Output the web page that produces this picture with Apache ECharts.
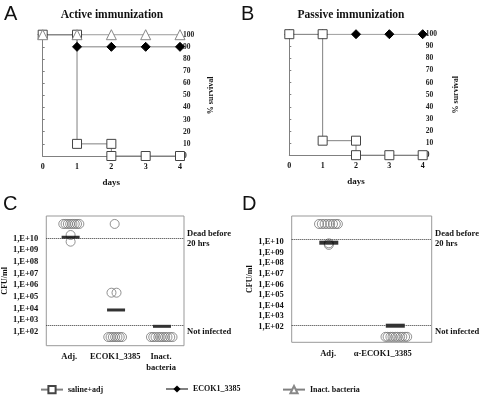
<!DOCTYPE html>
<html>
<head>
<meta charset="utf-8">
<script src="https://cdn.jsdelivr.net/npm/echarts@6/dist/echarts.min.js"></script>
<style>
html, body { margin: 0; padding: 0; background: #fff; }
#chart { width: 480px; height: 396px; }
</style>
</head>
<body>
<div id="chart"></div>
<script>
// survival curves, [day, % survival]
var activeSaline = [[0, 100], [1, 100], [1, 10], [2, 10], [2, 0], [3, 0], [4, 0]];
var activeEcok = [[0, 100], [1, 100], [1, 90], [2, 90], [3, 90], [4, 90]];
var activeInact = [[0, 100], [1, 100], [2, 100], [3, 100], [4, 100]];
var passiveSaline = [[0, 100], [1, 100], [1, 12], [2, 12], [2, 0], [3, 0], [4, 0]];
var passiveEcok = [[0, 100], [1, 100], [2, 100], [3, 100], [4, 100]];

// CFU/ml, [group position, log10 value]
var cCategories = ["Adj.", "ECOK1_3385", "Inact.\nbacteria"];
var cCircles = [
    [0.37, 11.23], [0.42, 11.23], [0.47, 11.23], [0.52, 11.23], [0.57, 11.23],
    [0.62, 11.23], [0.67, 11.23], [0.72, 11.23], [0.53, 10.28], [0.53, 9.71],
    [1.49, 11.23], [1.42, 5.34], [1.53, 5.34],
    [1.35, 1.54], [1.40, 1.54], [1.45, 1.54], [1.50, 1.54], [1.55, 1.54], [1.60, 1.54], [1.65, 1.54],
    [2.28, 1.54], [2.33, 1.54], [2.38, 1.54], [2.44, 1.54], [2.49, 1.54],
    [2.54, 1.54], [2.59, 1.54], [2.64, 1.54], [2.70, 1.54], [2.75, 1.54]
];
var cMeans = [[0.53, 10.09], [1.52, 3.86], [2.52, 2.46]];
var cThresholds = [10.03, 2.51];

var dCategories = ["Adj.", "α-ECOK1_3385"];
var dCircles = [
    [0.39, 11.74], [0.43, 11.74], [0.47, 11.74], [0.51, 11.74], [0.55, 11.74],
    [0.59, 11.74], [0.63, 11.74], [0.66, 11.74], [0.53, 9.9], [0.53, 9.75],
    [1.34, 1.0], [1.37, 1.0], [1.41, 1.0], [1.44, 1.0], [1.48, 1.0],
    [1.51, 1.0], [1.55, 1.0], [1.58, 1.0], [1.62, 1.0], [1.65, 1.0]
];
var dMeans = [[0.53, 9.96], [1.48, 2.06]];
var dThresholds = [10.29, 2.12];

var cfuTicks = [2, 3, 4, 5, 6, 7, 8, 9, 10];

var serif = "Liberation Serif";
var lineGray = "#808080";

function daysAxis(grid) {
    return {
        type: "value", gridIndex: grid, min: 0, max: 4, interval: 1,
        name: "days", nameLocation: "middle", nameGap: 22,
        nameTextStyle: { fontFamily: serif, fontWeight: "bold", fontSize: 9, color: "#111" },
        axisLine: { show: true, lineStyle: { color: lineGray } },
        axisTick: { show: false },
        axisLabel: { fontFamily: serif, fontWeight: "bold", fontSize: 8, color: "#111", margin: 7 },
        splitLine: { show: false }
    };
}
function survivalAxis(grid, gap) {
    return {
        type: "value", gridIndex: grid, position: "right", min: 0, max: 100, interval: 10,
        name: "% survival", nameLocation: "middle", nameGap: gap, nameRotate: 90,
        nameTextStyle: { fontFamily: serif, fontWeight: "bold", fontSize: 8, color: "#111" },
        axisLine: { show: true, lineStyle: { color: lineGray } },
        axisTick: { show: true, length: 2, lineStyle: { color: lineGray } },
        axisLabel: { fontFamily: serif, fontWeight: "bold", fontSize: 7.5, color: "#222", margin: 3 },
        splitLine: { show: false }
    };
}
function leftLine(grid) {
    return {
        type: "value", gridIndex: grid, position: "left", min: 0, max: 100,
        axisLine: { show: true, lineStyle: { color: lineGray } },
        axisTick: { show: false }, axisLabel: { show: false }, splitLine: { show: false }
    };
}
function cfuAxis(grid, min, max) {
    return {
        type: "value", gridIndex: grid, min: min, max: max,
        name: "CFU/ml", nameLocation: "middle", nameGap: 37,
        nameTextStyle: { fontFamily: serif, fontWeight: "bold", fontSize: 8, color: "#111" },
        axisLine: { show: false }, axisTick: { show: false }, splitLine: { show: false },
        axisLabel: {
            customValues: cfuTicks, margin: 8,
            fontFamily: serif, fontWeight: "bold", fontSize: 8.5, color: "#111",
            formatter: function (v) { return "1,E+" + (v < 10 ? "0" : "") + v; }
        }
    };
}
function groupAxis(grid, max, cats, pos) {
    return {
        type: "value", gridIndex: grid, min: 0, max: max,
        axisLine: { show: false }, axisTick: { show: false }, splitLine: { show: false },
        axisLabel: {
            customValues: pos, margin: 6, lineHeight: 11,
            fontFamily: serif, fontWeight: "bold", fontSize: 8.5, color: "#111",
            formatter: function (v) { return cats[pos.indexOf(v)]; }
        }
    };
}

var squareStyle = { color: "#fff", borderColor: "#444", borderWidth: 1 };
var diamondStyle = { color: "#000", borderColor: "#000" };
var triangleStyle = { color: "#fff", borderColor: "#888", borderWidth: 1 };

function survSeries(name, data, x, y, symbol, size, style) {
    return {
        name: name, type: "line", data: data, xAxisIndex: x, yAxisIndex: y,
        symbol: symbol, symbolSize: size, showAllSymbol: true,
        lineStyle: { color: lineGray, width: 1 }, itemStyle: style,
        color: style.color === "#fff" ? "#fff" : "#000", animation: false
    };
}
function circleSeries(data, x, y) {
    return {
        type: "scatter", data: data, xAxisIndex: x, yAxisIndex: y,
        symbol: "circle", symbolSize: 9,
        itemStyle: { color: "rgba(255,255,255,0)", borderColor: "#777", borderWidth: 1 }
    };
}
function meanSeries(data, x, y, size, thresholds) {
    return {
        type: "scatter", data: data, xAxisIndex: x, yAxisIndex: y,
        symbol: "rect", symbolSize: size, itemStyle: { color: "#000" }, z: 3,
        markLine: {
            silent: true, symbol: "none", label: { show: false },
            lineStyle: { type: "dotted", color: "#333", width: 1 },
            data: thresholds.map(function (t) { return { yAxis: t }; })
        }
    };
}
function note(x, y, text) {
    return {
        type: "text", left: x, top: y,
        style: { text: text, fontFamily: serif, fontWeight: "bold", fontSize: 8.5, fill: "#111", lineHeight: 10 }
    };
}
function letter(x, y, text) {
    return {
        type: "text", left: x, top: y,
        style: { text: text, fontFamily: "Liberation Sans", fontSize: 20, fill: "#111" }
    };
}
function heading(x, text) {
    return {
        type: "text", x: x, y: 15,
        style: { text: text, fontFamily: serif, fontWeight: "bold", fontSize: 11.5, fill: "#111", align: "center", verticalAlign: "middle" }
    };
}
function legendItem(left, name) {
    return {
        data: [name], left: left, top: 380, itemWidth: 22, itemHeight: 9,
        textStyle: { fontFamily: serif, fontWeight: "bold", fontSize: 8, color: "#111" },
        selectedMode: false
    };
}

var chart = echarts.init(document.getElementById("chart"));
chart.setOption({
    animation: false,
    backgroundColor: "#fff",
    grid: [
        { left: 42.7, top: 34.7, width: 137.3, height: 121.3 },
        { left: 289.3, top: 34.2, width: 133.4, height: 121 },
        { left: 44.7, top: 216, width: 139.3, height: 129.7, show: true, borderColor: "#999", borderWidth: 1 },
        { left: 291.7, top: 216, width: 140, height: 126.3, show: true, borderColor: "#999", borderWidth: 1 }
    ],
    xAxis: [
        daysAxis(0), daysAxis(1),
        groupAxis(2, 3, cCategories, [0.5, 1.5, 2.5]),
        groupAxis(3, 2, dCategories, [0.52, 1.3])
    ],
    yAxis: [
        survivalAxis(0, 27), leftLine(0),
        survivalAxis(1, 29), leftLine(1),
        cfuAxis(2, 0.8, 11.91),
        cfuAxis(3, 0.48, 12.5)
    ],
    legend: [
        legendItem(35, "saline+adj"),
        legendItem(160, "ECOK1_3385"),
        legendItem(277, "Inact. bacteria")
    ],
    graphic: [
        letter(4, 4, "A"), letter(241, 4, "B"), letter(3, 194, "C"), letter(242, 194, "D"),
        heading(112, "Active immunization"), heading(351, "Passive immunization"),
        note(187, 229, "Dead before\n20 hrs"), note(187, 327, "Not infected"),
        note(435, 229, "Dead before\n20 hrs"), note(435, 327, "Not infected")
    ],
    series: [
        survSeries("ECOK1_3385", activeEcok, 0, 0, "diamond", 9, diamondStyle),
        survSeries("saline+adj", activeSaline, 0, 0, "rect", 9, squareStyle),
        survSeries("Inact. bacteria", activeInact, 0, 0, "triangle", 10, triangleStyle),
        survSeries("ECOK1_3385", passiveEcok, 1, 2, "diamond", 9, diamondStyle),
        survSeries("saline+adj", passiveSaline, 1, 2, "rect", 9, squareStyle),
        circleSeries(cCircles, 2, 4),
        meanSeries(cMeans, 2, 4, [18, 3], cThresholds),
        circleSeries(dCircles, 3, 5),
        meanSeries(dMeans, 3, 5, [19, 4], dThresholds)
    ]
});
</script>
</body>
</html>
